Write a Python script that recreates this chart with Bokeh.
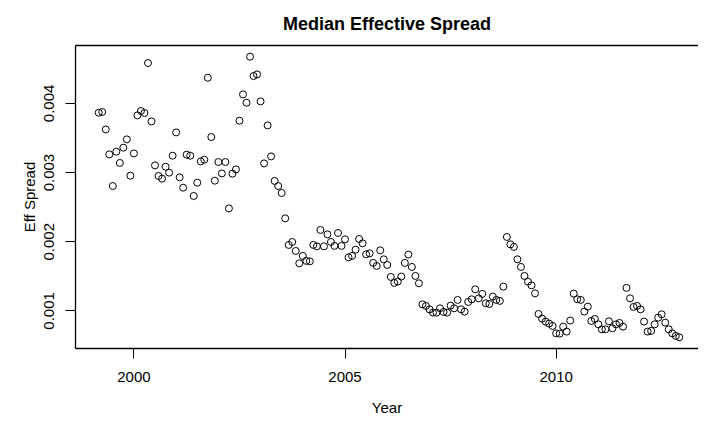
import pandas as pd
from bokeh.plotting import figure
from bokeh.models import FixedTicker, Range1d, LinearAxis
from bokeh.embed import file_html
from bokeh.resources import INLINE

# Monthly observations, March 1999 .. December 2012
months = pd.date_range("1999-03-01", "2012-12-01", freq="MS")
year = [d.year + (d.month - 1) / 12 for d in months]

eff_spread = [
    0.003866, 0.003876, 0.003624, 0.003263, 0.002806, 0.003302, 0.003139, 0.003360, 0.003480, 0.002955,
    0.003277, 0.003827, 0.003890, 0.003861, 0.004584, 0.003740, 0.003104, 0.002951, 0.002912, 0.003085,
    0.002999, 0.003244, 0.003581, 0.002931, 0.002782, 0.003259, 0.003244, 0.002662, 0.002854, 0.003162,
    0.003186, 0.004371, 0.003514, 0.002883, 0.003153, 0.002988, 0.003153, 0.002483, 0.002984, 0.003046,
    0.003750, 0.004130, 0.004010, 0.004675, 0.004396, 0.004419, 0.004029, 0.003133, 0.003682, 0.003234,
    0.002879, 0.002806, 0.002705, 0.002338, 0.001954, 0.001997, 0.001867, 0.001688, 0.001795, 0.001723,
    0.001717, 0.001954, 0.001934, 0.002171, 0.001934, 0.002107, 0.001997, 0.001940, 0.002127, 0.001940,
    0.002035, 0.001775, 0.001795, 0.001886, 0.002040, 0.001977, 0.001818, 0.001832, 0.001694, 0.001650,
    0.001876, 0.001746, 0.001665, 0.001491, 0.001405, 0.001425, 0.001497, 0.001694, 0.001815, 0.001636,
    0.001506, 0.001399, 0.001095, 0.001072, 0.001023, 0.000975, 0.000975, 0.001038, 0.000986, 0.000975,
    0.001077, 0.001038, 0.001159, 0.001023, 0.000990, 0.001130, 0.001168, 0.001312, 0.001182, 0.001246,
    0.001110, 0.001101, 0.001207, 0.001159, 0.001145, 0.001351, 0.002069, 0.001962, 0.001925, 0.001746,
    0.001636, 0.001506, 0.001423, 0.001370, 0.001254, 0.000956, 0.000889, 0.000846, 0.000817, 0.000783,
    0.000676, 0.000672, 0.000773, 0.000701, 0.000860, 0.001250, 0.001168, 0.001159, 0.000990, 0.001062,
    0.000855, 0.000884, 0.000806, 0.000734, 0.000734, 0.000850, 0.000749, 0.000806, 0.000826, 0.000773,
    0.001333, 0.001182, 0.001058, 0.001072, 0.001023, 0.000846, 0.000701, 0.000711, 0.000806, 0.000903,
    0.000951, 0.000831, 0.000734, 0.000676, 0.000639, 0.000619,
]

x_ticks = [2000, 2005, 2010]
x_tick_labels = ["2000", "2005", "2010"]
y_ticks = [0.001, 0.002, 0.003, 0.004]
y_tick_labels = ["0.001", "0.002", "0.003", "0.004"]

FONT = "Liberation Sans"

# R-style axis limits: data range padded by 4% on each side; the plot box
# runs past the right edge of the 706px view, so the visible part ends early.
x_pad = 0.04 * (max(year) - min(year))
y_pad = 0.04 * (max(eff_spread) - min(eff_spread))
x_lo = min(year) - x_pad
x_hi_full = max(year) + x_pad
visible_fraction = 0.9936  # share of the box that falls inside the window
x_hi = x_lo + (x_hi_full - x_lo) * visible_fraction

p = figure(
    frame_width=623, frame_height=303,
    output_backend="svg", toolbar_location=None,
    x_range=Range1d(x_lo, x_hi),
    y_range=Range1d(min(eff_spread) - y_pad, max(eff_spread) + y_pad),
    title="Median Effective Spread",
    min_border_left=75, min_border_right=0, min_border_top=45, min_border_bottom=75,
)

p.scatter(year, eff_spread, marker="circle", size=7, fill_color=None,
          line_color="black", line_width=1)

p.grid.visible = False
p.background_fill_color = "white"
p.border_fill_color = "white"
p.outline_line_color = None

p.title.align = "center"
p.title.text_font = FONT
p.title.text_font_size = "18px"
p.title.text_font_style = "bold"
p.title.text_color = "black"
p.title.standoff = 23

xax = p.below[0]
yax = p.left[0]

for ax in (xax, yax):
    ax.axis_line_color = "black"
    ax.axis_line_width = 1.3
    ax.major_tick_in = 0
    ax.major_tick_out = 10
    ax.major_tick_line_color = "black"
    ax.minor_tick_line_color = None
    ax.major_label_text_font = FONT
    ax.major_label_text_font_size = "15px"
    ax.major_label_text_color = "black"
    ax.axis_label_text_font = FONT
    ax.axis_label_text_font_size = "15px"
    ax.axis_label_text_font_style = "normal"
    ax.axis_label_text_color = "black"

xax.ticker = FixedTicker(ticks=x_ticks)
xax.major_label_overrides = dict(zip(x_ticks, x_tick_labels))
xax.axis_label = "Year"
xax.major_label_standoff = 13
xax.axis_label_standoff = 14

yax.ticker = FixedTicker(ticks=y_ticks)
yax.major_label_overrides = dict(zip(y_ticks, y_tick_labels))
yax.major_label_orientation = "vertical"
yax.axis_label = "Eff Spread"
yax.major_label_standoff = 11
yax.axis_label_standoff = 4

# top side of the plot box (a bare axis line, no ticks or labels)
top = LinearAxis(ticker=FixedTicker(ticks=[]),
                 major_tick_line_color=None, minor_tick_line_color=None,
                 major_label_standoff=0, major_tick_out=0, major_tick_in=0,
                 axis_line_color="black", axis_line_width=1.3)
p.add_layout(top, "above")

open("out.html", "w").write(file_html(p, INLINE))
